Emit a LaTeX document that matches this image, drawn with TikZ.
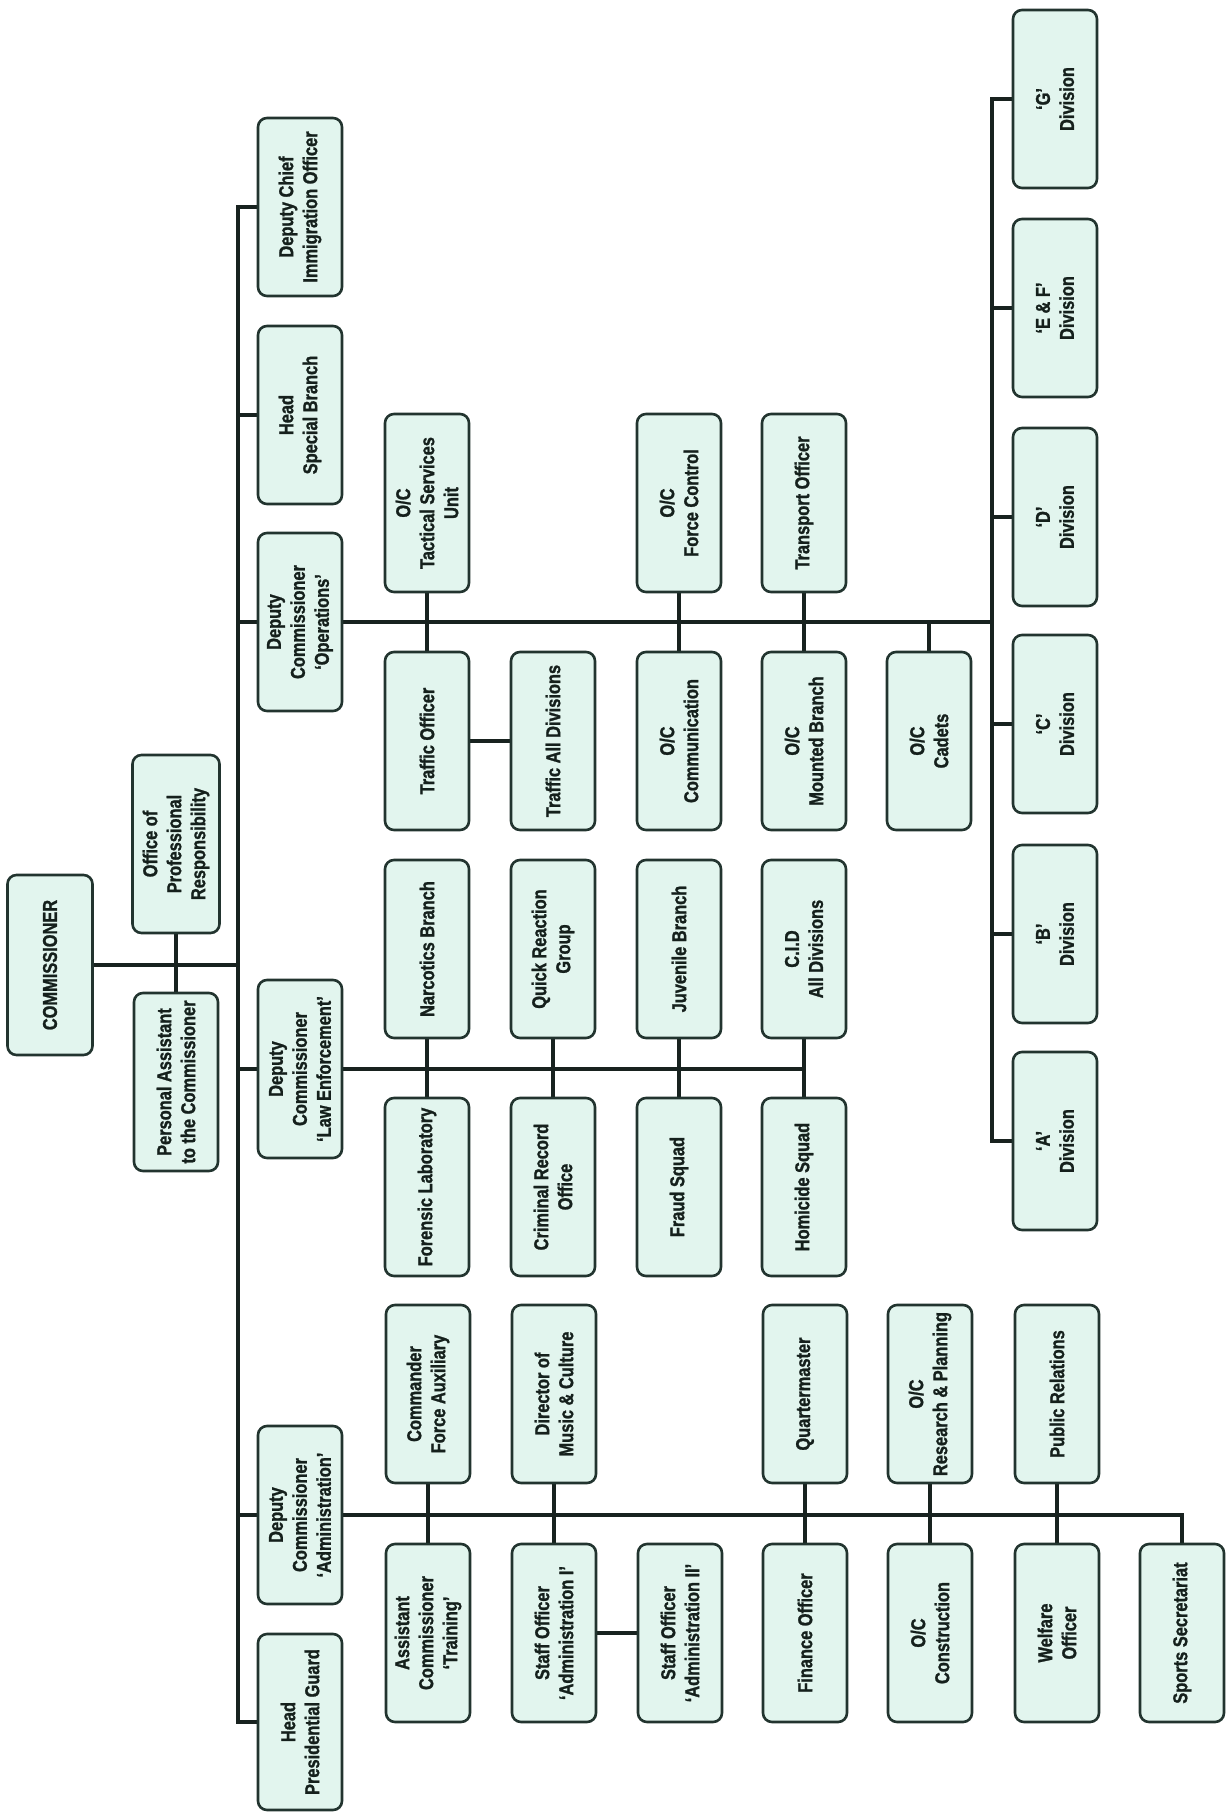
\documentclass[tikz,border=0pt]{standalone}
\usepackage{fontspec}
\newfontfamily\boxfont{Liberation Sans}[FakeStretch=0.82, BoldFeatures={FakeBold=1.2}]
\usetikzlibrary{backgrounds}
\definecolor{boxfill}{HTML}{E2F5EE}
\definecolor{boxline}{HTML}{22342F}
\definecolor{conncol}{HTML}{18221F}
\definecolor{txtcol}{HTML}{15201C}
\begin{document}
\begin{tikzpicture}[x=1pt,y=-1pt,
  box/.style={draw=boxline, line width=2.6pt, fill=boxfill, rounded corners=9pt,
    rotate=90, minimum width=178pt, minimum height=84pt, align=center, inner sep=2pt,
    text=txtcol, font=\boxfont\bfseries\fontsize{20}{24}\selectfont},
  conn/.style={draw=conncol, line width=4.5pt}]
\useasboundingbox (0,0) rectangle (1227,1812);
\coordinate (spX) at (238,0);
\coordinate (divX) at (992,0);
% level 0/1
\node[box, minimum width=180pt, minimum height=85pt] (comm) at (50,965) {COMMISSIONER};
\node[box, minimum height=87pt] (opr) at (176,844) {Office of\\Professional\\Responsibility};
\node[box] (pa) at (176,1082) {Personal Assistant\\to the Commissioner};
\node[box] (dci) at (300,207) {Deputy Chief\\Immigration Officer};
\node[box] (hsb) at (300,415) {Head\\Special Branch};
\node[box] (dco) at (300,622) {Deputy\\Commissioner\\‘Operations’};
\node[box] (dcle) at (300,1069) {Deputy\\Commissioner\\‘Law Enforcement’};
\node[box] (dca) at (300,1515) {Deputy\\Commissioner\\‘Administration’};
\node[box, minimum width=176pt] (hpg) at (300,1722) {Head\\Presidential Guard};
% operations
\node[box] (tact) at (427,503) {O/C\\Tactical Services\\Unit};
\node[box] (fc) at (679,503) {O/C\\Force Control};
\node[box] (trans) at (804,503) {Transport Officer};
\node[box] (traf) at (427,741) {Traffic Officer};
\node[box] (trafall) at (553,741) {Traffic All Divisions};
\node[box] (ocomm) at (679,741) {O/C\\Communication};
\node[box] (mount) at (804,741) {O/C\\Mounted Branch};
\node[box] (cadets) at (929,741) {O/C\\Cadets};
% divisions
\node[box] (dG) at (1055,99) {‘G’\\Division};
\node[box] (dEF) at (1055,308) {‘E \& F’\\Division};
\node[box] (dD) at (1055,517) {‘D’\\Division};
\node[box] (dC) at (1055,724) {‘C’\\Division};
\node[box] (dB) at (1055,934) {‘B’\\Division};
\node[box] (dA) at (1055,1141) {‘A’\\Division};
% law enforcement
\node[box] (narc) at (427,949) {Narcotics Branch};
\node[box] (qrg) at (553,949) {Quick Reaction\\Group};
\node[box] (juv) at (679,949) {Juvenile Branch};
\node[box] (cid) at (804,949) {C.I.D\\All Divisions};
\node[box] (foren) at (427,1187) {Forensic Laboratory};
\node[box] (cro) at (553,1187) {Criminal Record\\Office};
\node[box] (fraud) at (679,1187) {Fraud Squad};
\node[box] (homi) at (804,1187) {Homicide Squad};
% administration
\node[box] (cfa) at (428,1394) {Commander\\Force Auxiliary};
\node[box] (dmc) at (554,1394) {Director of\\Music \& Culture};
\node[box] (qm) at (805,1394) {Quartermaster};
\node[box] (rp) at (930,1394) {O/C\\Research \& Planning};
\node[box] (pr) at (1057,1394) {Public Relations};
\node[box] (act) at (428,1633) {Assistant\\Commissioner\\‘Training’};
\node[box] (so1) at (554,1633) {Staff Officer\\‘Administration I’};
\node[box] (so2) at (680,1633) {Staff Officer\\‘Administration II’};
\node[box] (fin) at (805,1633) {Finance Officer};
\node[box] (cons) at (930,1633) {O/C\\Construction};
\node[box] (wel) at (1057,1633) {Welfare\\Officer};
\node[box] (sports) at (1182,1633) {Sports Secretariat};
% connectors
\begin{scope}[on background layer]
\fill[white] (0,0) rectangle (1227,1812);
\draw[conn] (dci.north) -- (dci.north -| spX) -- (hpg.north -| spX) -- (hpg.north);
\draw[conn] (hsb.north) -- (hsb.north -| spX);
\draw[conn] (dco.north) -- (dco.north -| spX);
\draw[conn] (dcle.north) -- (dcle.north -| spX);
\draw[conn] (dca.north) -- (dca.north -| spX);
\draw[conn] (comm.south) -- (comm.south -| spX);
\draw[conn] (opr.west) -- (pa.east);
% operations
\draw[conn] (dco.south) -- (dco.south -| divX);
\draw[conn] (dG.north) -- (dG.north -| divX) -- (dA.north -| divX) -- (dA.north);
\draw[conn] (dEF.north) -- (dEF.north -| divX);
\draw[conn] (dD.north) -- (dD.north -| divX);
\draw[conn] (dC.north) -- (dC.north -| divX);
\draw[conn] (dB.north) -- (dB.north -| divX);
\draw[conn] (tact.west) -- (traf.east);
\draw[conn] (fc.west) -- (ocomm.east);
\draw[conn] (trans.west) -- (mount.east);
\draw[conn] (cadets.east) -- (cadets.east |- dco.south);
\draw[conn] (traf.south) -- (trafall.north);
% law enforcement
\draw[conn] (dcle.south) -- (dcle.south -| cid);
\draw[conn] (narc.west) -- (foren.east);
\draw[conn] (qrg.west) -- (cro.east);
\draw[conn] (juv.west) -- (fraud.east);
\draw[conn] (cid.west) -- (homi.east);
% administration
\draw[conn] (dca.south) -- (dca.south -| sports) -- (sports.east);
\draw[conn] (cfa.west) -- (act.east);
\draw[conn] (dmc.west) -- (so1.east);
\draw[conn] (qm.west) -- (fin.east);
\draw[conn] (rp.west) -- (cons.east);
\draw[conn] (pr.west) -- (wel.east);
\draw[conn] (so1.south) -- (so2.north);
\end{scope}
\end{tikzpicture}
\end{document}
